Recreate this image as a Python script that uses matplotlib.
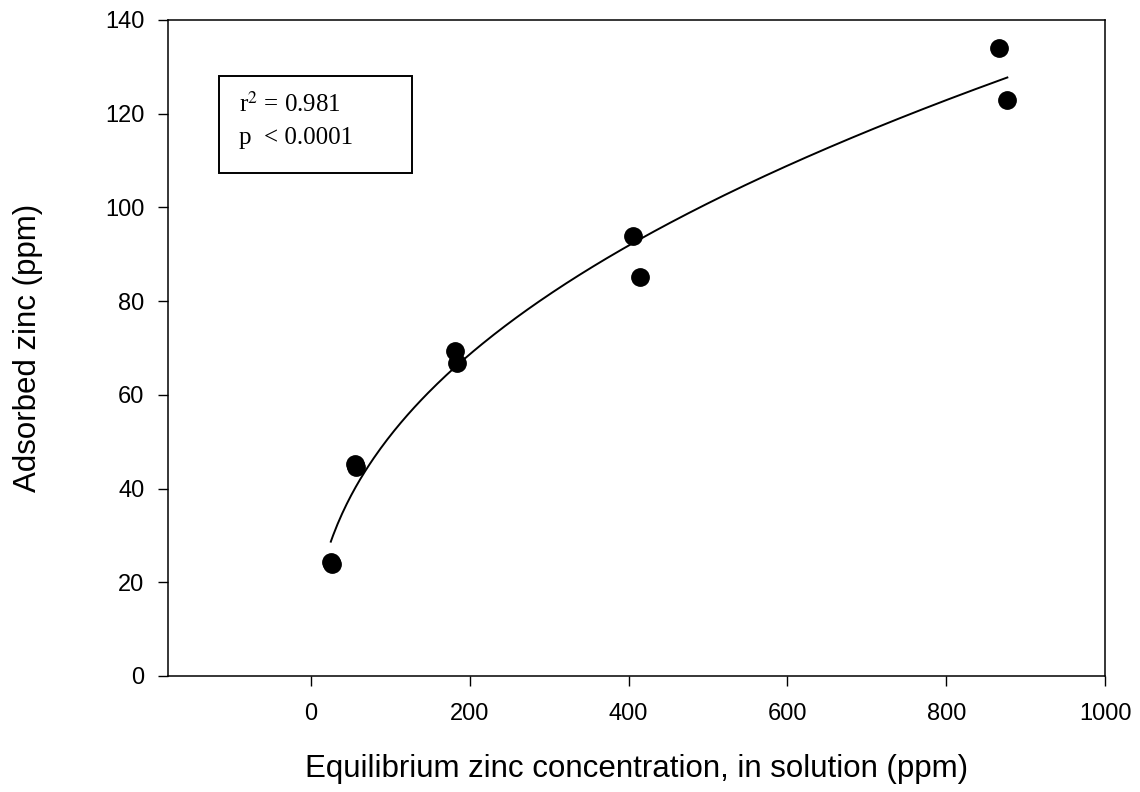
import numpy as np
import matplotlib
matplotlib.use("Agg")
import matplotlib.pyplot as plt
from matplotlib.patches import Rectangle

# adsorption data
conc = [25, 27, 55, 57, 181, 184, 406, 415, 866, 877]
adsorbed = [24.4, 24.0, 45.2, 44.6, 69.4, 66.7, 94.0, 85.1, 134.0, 122.9]

x_ticks = [0, 200, 400, 600, 800, 1000]
y_ticks = [0, 20, 40, 60, 80, 100, 120, 140]

stats_lines = ["r$^2$ = 0.981", "p  < 0.0001"]


def power_fit(x, y):
    # least squares fit of y = a * x**b, simple scan over b
    x = np.asarray(x, float)
    y = np.asarray(y, float)
    best = None
    for b in np.linspace(0.1, 1.0, 901):
        xb = x ** b
        a = np.sum(y * xb) / np.sum(xb * xb)
        sse = np.sum((y - a * xb) ** 2)
        if best is None or sse < best[2]:
            best = (a, b, sse)
    return best[0], best[1]


plt.rcParams['font.family'] = ['Liberation Sans', 'DejaVu Sans']
plt.rcParams['mathtext.fontset'] = 'stix'

fig = plt.figure(figsize=(11.4, 7.92), dpi=100)
ax = fig.add_axes([0.1474, 0.1465, 0.8219, 0.8283])

a, b = power_fit(conc, adsorbed)
xs = np.linspace(min(conc), max(conc), 300)
ax.plot(xs, a * xs ** b, color='black', lw=1.4, zorder=2)
ax.plot(conc, adsorbed, 'o', color='black', markersize=12.5, zorder=3)

ax.set_xlim(-180, 1000)
ax.set_ylim(0, 140)
ax.set_xticks(x_ticks)
ax.set_yticks(y_ticks)
ax.tick_params(direction='out', length=7, width=1, labelsize=17, pad=10)
ax.tick_params(axis='x', pad=12.5)
for s in ax.spines.values():
    s.set_linewidth(1.1)

ax.set_xlabel("Equilibrium zinc concentration, in solution (ppm)", fontsize=22.5, labelpad=21)
ax.set_ylabel("Adsorbed zinc (ppm)", fontsize=22.5, labelpad=45)

# stats box
ax.add_patch(Rectangle((0.0547, 0.7672), 0.206, 0.1474, transform=ax.transAxes,
                       fill=False, edgecolor='black', lw=1.4, zorder=4))
ax.text(0.0761, 0.8602, stats_lines[0], transform=ax.transAxes, fontsize=18,
        family=['Liberation Serif', 'DejaVu Serif'], va='baseline')
ax.text(0.0761, 0.811, stats_lines[1], transform=ax.transAxes, fontsize=18,
        family=['Liberation Serif', 'DejaVu Serif'], va='baseline')

fig.savefig("out.png", dpi=100)
